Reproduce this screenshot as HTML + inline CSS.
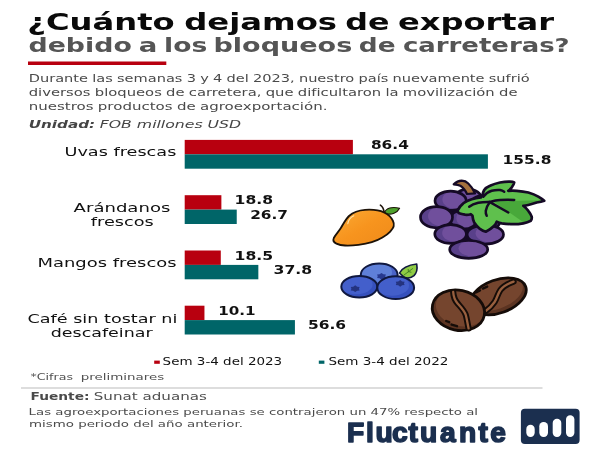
<!DOCTYPE html>
<html lang="es"><head><meta charset="utf-8"><title>¿Cuánto dejamos de exportar?</title>
<style>html,body{margin:0;padding:0;background:#fff}svg{display:block;will-change:transform}</style></head>
<body><svg width="600" height="450" viewBox="0 0 600 450">
<rect width="600" height="450" fill="#ffffff"/>
<text y="30.3" font-size="22.2" font-weight="bold" fill="#0a0a0a" font-family='"DejaVu Sans", "Liberation Sans", sans-serif'><tspan x="27.29" textLength="147.38" lengthAdjust="spacingAndGlyphs">¿Cuánto</tspan> <tspan x="184.16" textLength="152.86" lengthAdjust="spacingAndGlyphs">dejamos</tspan> <tspan x="345.29" textLength="44.24" lengthAdjust="spacingAndGlyphs">de</tspan> <tspan x="397.94" textLength="156.15" lengthAdjust="spacingAndGlyphs">exportar</tspan></text>
<text y="51.8" font-size="18.6" font-weight="bold" fill="#555" font-family='"DejaVu Sans", "Liberation Sans", sans-serif'><tspan x="28.51" textLength="103.33" lengthAdjust="spacingAndGlyphs">debido</tspan> <tspan x="138.83" textLength="18.64" lengthAdjust="spacingAndGlyphs">a</tspan> <tspan x="164.08" textLength="43.17" lengthAdjust="spacingAndGlyphs">los</tspan> <tspan x="213.44" textLength="138.84" lengthAdjust="spacingAndGlyphs">bloqueos</tspan> <tspan x="358.83" textLength="36.74" lengthAdjust="spacingAndGlyphs">de</tspan> <tspan x="402.9" textLength="166.78" lengthAdjust="spacingAndGlyphs">carreteras?</tspan></text>
<rect x="28" y="61.5" width="138.3" height="3.5" fill="#b8000f" />
<text x="28.7" y="81.8" font-size="10.8" font-weight="normal" font-style="normal" fill="#4a4a4a" text-anchor="start" font-family='"DejaVu Sans", "Liberation Sans", sans-serif' textLength="501" lengthAdjust="spacingAndGlyphs" word-spacing="-0.3">Durante las semanas 3 y 4 del 2023, nuestro país nuevamente sufrió</text>
<text x="28.7" y="95.8" font-size="10.8" font-weight="normal" font-style="normal" fill="#4a4a4a" text-anchor="start" font-family='"DejaVu Sans", "Liberation Sans", sans-serif' textLength="488.8" lengthAdjust="spacingAndGlyphs" word-spacing="-0.3">diversos bloqueos de carretera, que dificultaron la movilización de</text>
<text x="28.7" y="109.8" font-size="10.8" font-weight="normal" font-style="normal" fill="#4a4a4a" text-anchor="start" font-family='"DejaVu Sans", "Liberation Sans", sans-serif' textLength="298.8" lengthAdjust="spacingAndGlyphs" word-spacing="-0.3">nuestros productos de agroexportación.</text>
<text y="127.8" font-size="10.5" font-style="italic" fill="#444" font-family='"DejaVu Sans", "Liberation Sans", sans-serif'><tspan x="28.7" font-weight="bold" textLength="66.5" lengthAdjust="spacingAndGlyphs">Unidad:</tspan> <tspan x="99.7" textLength="141.5" lengthAdjust="spacingAndGlyphs">FOB millones USD</tspan></text>
<rect x="184.7" y="139.9" width="168.19" height="14.4" fill="#b8000f" />
<rect x="184.7" y="154.3" width="303.21" height="14.4" fill="#006568" />
<rect x="184.7" y="195.2" width="36.68" height="14.4" fill="#b8000f" />
<rect x="184.7" y="209.6" width="52.04" height="14.4" fill="#006568" />
<rect x="184.7" y="250.5" width="36.09" height="14.4" fill="#b8000f" />
<rect x="184.7" y="264.9" width="73.64" height="14.4" fill="#006568" />
<rect x="184.7" y="305.7" width="19.75" height="14.4" fill="#b8000f" />
<rect x="184.7" y="320.1" width="110.22" height="14.4" fill="#006568" />
<text x="370.94" y="149.3" font-size="11.4" font-weight="bold" font-style="normal" fill="#111" text-anchor="start" font-family='"DejaVu Sans", "Liberation Sans", sans-serif' textLength="37.9" lengthAdjust="spacingAndGlyphs" >86.4</text>
<text x="502.63" y="163.7" font-size="11.4" font-weight="bold" font-style="normal" fill="#111" text-anchor="start" font-family='"DejaVu Sans", "Liberation Sans", sans-serif' textLength="48.75" lengthAdjust="spacingAndGlyphs" >155.8</text>
<text x="234.61" y="204.2" font-size="11.4" font-weight="bold" font-style="normal" fill="#111" text-anchor="start" font-family='"DejaVu Sans", "Liberation Sans", sans-serif' textLength="38.48" lengthAdjust="spacingAndGlyphs" >18.8</text>
<text x="250.18" y="218.5" font-size="11.4" font-weight="bold" font-style="normal" fill="#111" text-anchor="start" font-family='"DejaVu Sans", "Liberation Sans", sans-serif' textLength="37.83" lengthAdjust="spacingAndGlyphs" >26.7</text>
<text x="234.6" y="259.7" font-size="11.4" font-weight="bold" font-style="normal" fill="#111" text-anchor="start" font-family='"DejaVu Sans", "Liberation Sans", sans-serif' textLength="38.62" lengthAdjust="spacingAndGlyphs" >18.5</text>
<text x="273.54" y="273.7" font-size="11.4" font-weight="bold" font-style="normal" fill="#111" text-anchor="start" font-family='"DejaVu Sans", "Liberation Sans", sans-serif' textLength="38.66" lengthAdjust="spacingAndGlyphs" >37.8</text>
<text x="218.2" y="314.7" font-size="11.4" font-weight="bold" font-style="normal" fill="#111" text-anchor="start" font-family='"DejaVu Sans", "Liberation Sans", sans-serif' textLength="37.44" lengthAdjust="spacingAndGlyphs" >10.1</text>
<text x="307.98" y="329" font-size="11.4" font-weight="bold" font-style="normal" fill="#111" text-anchor="start" font-family='"DejaVu Sans", "Liberation Sans", sans-serif' textLength="38.18" lengthAdjust="spacingAndGlyphs" >56.6</text>
<text x="64.47" y="156" font-size="11.6" font-weight="normal" font-style="normal" fill="#111" text-anchor="start" font-family='"DejaVu Sans", "Liberation Sans", sans-serif' textLength="111.88" lengthAdjust="spacingAndGlyphs" >Uvas frescas</text>
<text x="73.61" y="212.4" font-size="11.6" font-weight="normal" font-style="normal" fill="#111" text-anchor="start" font-family='"DejaVu Sans", "Liberation Sans", sans-serif' textLength="96.76" lengthAdjust="spacingAndGlyphs" >Arándanos</text>
<text x="90.85" y="226.1" font-size="11.6" font-weight="normal" font-style="normal" fill="#111" text-anchor="start" font-family='"DejaVu Sans", "Liberation Sans", sans-serif' textLength="63.01" lengthAdjust="spacingAndGlyphs" >frescos</text>
<text x="37.54" y="267.2" font-size="11.6" font-weight="normal" font-style="normal" fill="#111" text-anchor="start" font-family='"DejaVu Sans", "Liberation Sans", sans-serif' textLength="139.13" lengthAdjust="spacingAndGlyphs" >Mangos frescos</text>
<text x="27.51" y="323.4" font-size="11.6" font-weight="normal" font-style="normal" fill="#111" text-anchor="start" font-family='"DejaVu Sans", "Liberation Sans", sans-serif' textLength="149.93" lengthAdjust="spacingAndGlyphs" >Café sin tostar ni</text>
<text x="50.74" y="336.7" font-size="11.6" font-weight="normal" font-style="normal" fill="#111" text-anchor="start" font-family='"DejaVu Sans", "Liberation Sans", sans-serif' textLength="101.85" lengthAdjust="spacingAndGlyphs" >descafeinar</text>
<rect x="154.2" y="360.6" width="5.6" height="3.2" fill="#b8000f" />
<text x="162.6" y="364.5" font-size="9.7" font-weight="normal" font-style="normal" fill="#111" text-anchor="start" font-family='"DejaVu Sans", "Liberation Sans", sans-serif' textLength="119.6" lengthAdjust="spacingAndGlyphs" >Sem 3-4 del 2023</text>
<rect x="318.8" y="360.6" width="5.6" height="3.2" fill="#006568" />
<text x="328.4" y="364.5" font-size="9.7" font-weight="normal" font-style="normal" fill="#111" text-anchor="start" font-family='"DejaVu Sans", "Liberation Sans", sans-serif' textLength="120" lengthAdjust="spacingAndGlyphs" >Sem 3-4 del 2022</text>
<text y="380.2" font-size="9.2" font-weight="normal" fill="#505050" font-family='"DejaVu Sans", "Liberation Sans", sans-serif'><tspan x="30.5" textLength="42.5" lengthAdjust="spacingAndGlyphs">*Cifras</tspan> <tspan x="80.7" textLength="83.5" lengthAdjust="spacingAndGlyphs">preliminares</tspan></text>
<rect x="21" y="387.3" width="521.5" height="1.4" fill="#cfcfcf" />
<text y="400.1" font-size="10.3" fill="#505050" font-family='"DejaVu Sans", "Liberation Sans", sans-serif'><tspan x="30.5" font-weight="bold" fill="#4a4a4a" textLength="59" lengthAdjust="spacingAndGlyphs">Fuente:</tspan> <tspan x="93.7" textLength="113.3" lengthAdjust="spacingAndGlyphs">Sunat aduanas</tspan></text>
<text x="28.6" y="415" font-size="9.5" font-weight="normal" font-style="normal" fill="#4a4a4a" text-anchor="start" font-family='"DejaVu Sans", "Liberation Sans", sans-serif' textLength="449.4" lengthAdjust="spacingAndGlyphs" >Las agroexportaciones peruanas se contrajeron un 47% respecto al</text>
<text x="29" y="427.2" font-size="9.5" font-weight="normal" font-style="normal" fill="#4a4a4a" text-anchor="start" font-family='"DejaVu Sans", "Liberation Sans", sans-serif' textLength="214" lengthAdjust="spacingAndGlyphs" >mismo periodo del año anterior.</text>
<text x="347.0 366.1 375.4 392.0 408.6 420.1 440.0 459.0 478.6 490.3" y="441.6" font-size="28.2" font-weight="bold" fill="#1b2f4f" stroke="#1b2f4f" stroke-width="1.6" stroke-linejoin="round" font-family='"Liberation Sans", "DejaVu Sans", sans-serif'>Fluctuante</text>
<rect x="520.9" y="408.7" width="58.7" height="35.3" rx="4" fill="#1b2f4f"/>
<rect x="526.3" y="424.7" width="8.4" height="12.300000000000011" rx="4.2" fill="#fff"/>
<rect x="539.3" y="422" width="8.7" height="15" rx="4.2" fill="#fff"/>
<rect x="552.7" y="418.7" width="8.6" height="18.30000000000001" rx="4.2" fill="#fff"/>
<rect x="566" y="415.3" width="8.4" height="21.69999999999999" rx="4.2" fill="#fff"/>
<!-- MANGO -->
<g stroke-linejoin="round" stroke-linecap="round">
<defs>
<linearGradient id="mg" x1="0" y1="0" x2="1" y2="1"><stop offset="0" stop-color="#fbab35"/><stop offset="0.5" stop-color="#f7941e"/><stop offset="1" stop-color="#ee8a1a"/></linearGradient>
</defs>
<path d="M384.2 212 C383.6 209 382.6 206.6 380.4 205.2" fill="none" stroke="#1c1208" stroke-width="1.6"/>
<path d="M384.6 212.6 C386 208 392 206.4 399.6 208.2 C397.4 212.6 391.4 215.4 385.6 213.6 Z" fill="#4ea22d" stroke="#1c1208" stroke-width="1.1"/>
<path d="M384 212.4 C380 210.4 372 209.4 365 209.8 C359 210.2 353 212.4 349 216 C345.6 219.2 343.6 223.6 341 227.8 C338.8 231.4 335.2 235 333.8 238 C332.8 240.4 333.6 242.4 336.4 243.6 C339 244.8 342 245.4 345 245.5 C350 245.7 354 245.4 358.4 244.9 C363 244.4 367.6 243.6 371.8 242.2 C375.6 241 379.2 239.6 382.4 237.6 C385.4 235.8 388.2 233.8 390.2 231.6 C392 229.6 393.4 228 393.7 226.2 C394 224.4 393.8 222.6 393 221 C392.2 219.4 391 217.6 389.6 216.2 C388 214.6 386 213.2 384 212.4 Z" fill="url(#mg)" stroke="#1c1208" stroke-width="1.8"/>
<path d="M347.8 223.6 C348.4 220.4 350.4 217.4 353.8 215.8" fill="none" stroke="#fde3ad" stroke-width="1.1"/>
</g>
<!-- GRAPES -->
<g stroke-linejoin="round" stroke-linecap="round">
<defs>
<clipPath id="lf"><path id="leafp" d="M457.5 210.8 C459 207.5 461 205 463.3 203.3 C466 201.2 469 200 471.7 199.2 C474.8 198.3 478 197.8 480.8 197.5 L482.5 195 C482.8 193.2 483.4 191.5 484.2 190 C485.6 188 487.6 186.8 490 185.8 C493 184.4 496.6 183.2 500 182.5 C503.4 181.9 507 181.6 510 181.7 C511.6 181.8 513.2 182 514.2 182.5 C513.8 184.4 512.8 186 511.7 187.5 C510.8 188.8 509.6 189.9 508.3 190.8 C511 190.6 514 190.6 516.7 190.8 C520.8 191.1 524.6 191.6 528.3 192.5 C532 193.6 535.4 195 538.3 196.7 C540.6 198 542.6 199.4 544.2 200.8 C542 201.7 539.4 202.2 536.7 202.5 C534 203.4 531 204.4 528.3 205 C526.6 205.4 525 205.7 523.3 205.8 C525.2 207.3 527 209 528.3 210.8 C529.8 212.7 531 214.6 531.7 216.7 C532 218.2 531.6 219.6 530.8 220.8 C528.6 222 526 222.8 523.3 223.3 C520 223.9 516.6 224.2 513.3 224.2 C509.4 224.1 505.4 223.8 501.7 223.3 C500 223 498.2 222.4 496.7 221.7 C496.2 223.2 495.4 224.6 494.2 225.8 C491.8 228.2 489 230.2 485.8 231.7 C483.4 231 481.2 229.8 479.2 228.3 C477.2 226.6 475.6 224.6 474.2 222.5 C473.2 220.4 472.7 218 472.5 215.8 L470.8 214.2 C469 214.7 467 214.9 465 214.7 C463 214.4 461 214 459.2 213.3 C458.4 212.6 457.8 211.8 457.5 210.8 Z"/></clipPath>
</defs>
<path d="M445 205 L480 200 L490 225 L475 245 L460 245 L448 228 Z" fill="#150a25"/>
<g><clipPath id="gc0"><ellipse cx="468" cy="199" rx="13.5" ry="10"/></clipPath><ellipse cx="468" cy="199" rx="13.5" ry="10" fill="#59408a"/><ellipse cx="473.7" cy="197.8" rx="12.8" ry="10.0" fill="#704f9c" clip-path="url(#gc0)"/><ellipse cx="468" cy="199" rx="13.5" ry="10" fill="none" stroke="#150a25" stroke-width="2.7"/></g>
<g><clipPath id="gc1"><ellipse cx="483" cy="205" rx="13" ry="9.5"/></clipPath><ellipse cx="483" cy="205" rx="13" ry="9.5" fill="#59408a"/><ellipse cx="488.5" cy="203.9" rx="12.3" ry="9.5" fill="#704f9c" clip-path="url(#gc1)"/><ellipse cx="483" cy="205" rx="13" ry="9.5" fill="none" stroke="#150a25" stroke-width="2.7"/></g>
<g><clipPath id="gc2"><ellipse cx="450.6" cy="200.8" rx="15.6" ry="9.6"/></clipPath><ellipse cx="450.6" cy="200.8" rx="15.6" ry="9.6" fill="#59408a"/><ellipse cx="457.2" cy="199.6" rx="14.8" ry="9.6" fill="#704f9c" clip-path="url(#gc2)"/><ellipse cx="450.6" cy="200.8" rx="15.6" ry="9.6" fill="none" stroke="#150a25" stroke-width="2.7"/></g>
<g><clipPath id="gc3"><ellipse cx="486" cy="221" rx="14" ry="9.5"/></clipPath><ellipse cx="486" cy="221" rx="14" ry="9.5" fill="#59408a"/><ellipse cx="491.9" cy="219.9" rx="13.3" ry="9.5" fill="#704f9c" clip-path="url(#gc3)"/><ellipse cx="486" cy="221" rx="14" ry="9.5" fill="none" stroke="#150a25" stroke-width="2.7"/></g>
<g><clipPath id="gc4"><ellipse cx="463.5" cy="219.5" rx="13.5" ry="9.6"/></clipPath><ellipse cx="463.5" cy="219.5" rx="13.5" ry="9.6" fill="#59408a"/><ellipse cx="469.2" cy="218.3" rx="12.8" ry="9.6" fill="#704f9c" clip-path="url(#gc4)"/><ellipse cx="463.5" cy="219.5" rx="13.5" ry="9.6" fill="none" stroke="#150a25" stroke-width="2.7"/></g>
<g><clipPath id="gc5"><ellipse cx="436.5" cy="217.2" rx="16" ry="10.6"/></clipPath><ellipse cx="436.5" cy="217.2" rx="16" ry="10.6" fill="#59408a"/><ellipse cx="443.2" cy="215.9" rx="15.2" ry="10.6" fill="#704f9c" clip-path="url(#gc5)"/><ellipse cx="436.5" cy="217.2" rx="16" ry="10.6" fill="none" stroke="#150a25" stroke-width="2.7"/></g>
<g><clipPath id="gc6"><ellipse cx="485.3" cy="234.5" rx="18.2" ry="9.6"/></clipPath><ellipse cx="485.3" cy="234.5" rx="18.2" ry="9.6" fill="#59408a"/><ellipse cx="492.9" cy="233.3" rx="17.3" ry="9.6" fill="#704f9c" clip-path="url(#gc6)"/><ellipse cx="485.3" cy="234.5" rx="18.2" ry="9.6" fill="none" stroke="#150a25" stroke-width="2.7"/></g>
<g><clipPath id="gc7"><ellipse cx="450.6" cy="234" rx="15.8" ry="9.4"/></clipPath><ellipse cx="450.6" cy="234" rx="15.8" ry="9.4" fill="#59408a"/><ellipse cx="457.2" cy="232.9" rx="15.0" ry="9.4" fill="#704f9c" clip-path="url(#gc7)"/><ellipse cx="450.6" cy="234" rx="15.8" ry="9.4" fill="none" stroke="#150a25" stroke-width="2.7"/></g>
<g><clipPath id="gc8"><ellipse cx="468.7" cy="249.4" rx="19" ry="8.9"/></clipPath><ellipse cx="468.7" cy="249.4" rx="19" ry="8.9" fill="#59408a"/><ellipse cx="476.7" cy="248.3" rx="18.1" ry="8.9" fill="#704f9c" clip-path="url(#gc8)"/><ellipse cx="468.7" cy="249.4" rx="19" ry="8.9" fill="none" stroke="#150a25" stroke-width="2.7"/></g>
<!-- stem -->
<path d="M453.7 184.4 C456 182.2 459 180.8 461.7 180.7 C464.4 180.8 466.6 181.8 468.3 183.5 C471 186 473.4 189.6 475 193.4 L467 194 C465.4 190.6 463 187.4 460.3 185.8 C458.2 184.8 456 184.6 453.7 184.4 Z" fill="#a5713d" stroke="#150a25" stroke-width="2.2"/>
<!-- leaf -->
<use href="#leafp" fill="#5fc04d"/>
<path d="M493 201.2 L528 225.4 L552 216 L547 200.2 Z" fill="#48a83a" clip-path="url(#lf)"/>
<use href="#leafp" fill="none" stroke="#150a25" stroke-width="2.7"/>
<g fill="none" stroke="#150a25" stroke-width="2.5">
<path d="M489.2 201.9 C485 201.8 481 202.2 478.3 202.7 C474.6 203.6 471.4 205 469.2 206.7"/>
<path d="M483.3 196.7 C485.4 193.8 488.2 191.8 491.7 190.8 C494.6 190 497.4 189.8 500 190 C501.6 190.3 503 190.9 504.2 191.7"/>
<path d="M490.8 201.7 C493.8 200.8 497 200.2 500 200 C505 199.7 510 199.7 514.2 200"/>
<path d="M489.5 201.8 L508.3 212.5"/>
<path d="M489.2 203 C487.4 205.4 486.2 208 485.8 210.8 C485.6 212.6 486 214.4 486.7 215.8"/>
</g>
</g>
<!-- BLUEBERRIES -->
<g stroke-linejoin="round" stroke-linecap="round">
<defs>
<path id="star" d="M0 -2.6 L1.5 -1.5 L3.4 -1.3 L2.9 0 L3.4 1.3 L1.5 1.5 L0 2.6 L-1.5 1.5 L-3.4 1.3 L-2.9 0 L-3.4 -1.3 L-1.5 -1.5 Z"/>
<clipPath id="bb1"><ellipse cx="379.2" cy="274.8" rx="18.4" ry="11.4"/></clipPath>
<clipPath id="bb2"><ellipse cx="359.3" cy="286.8" rx="18" ry="10.7"/></clipPath>
<clipPath id="bb3"><ellipse cx="395.7" cy="287.7" rx="18.4" ry="11.4"/></clipPath>
</defs>
<!-- leaf -->
<path d="M399.5 273 C402 268 408 265 416.7 264 C417.6 269 416.6 273 414 275.6 C411 278 407 278.4 404.6 277.6 Z" fill="#8fcb45" stroke="#10183f" stroke-width="1.6"/>
<path d="M404 275 L412.6 268.6 M408.4 271.8 L408.2 269.4 M408.6 271.6 L411 272.2" fill="none" stroke="#3d7a22" stroke-width="0.9"/>
<!-- back berry -->
<ellipse cx="379.2" cy="274.8" rx="18.4" ry="11.4" fill="#4a63c8"/>
<ellipse cx="375" cy="272.4" rx="17" ry="10.4" fill="#5f80d8" clip-path="url(#bb1)"/>
<use href="#star" transform="translate(381.5 276.3) scale(1.3)" fill="#27398f"/>
<ellipse cx="379.2" cy="274.8" rx="18.4" ry="11.4" fill="none" stroke="#10183f" stroke-width="2"/>
<!-- left berry -->
<ellipse cx="359.3" cy="286.8" rx="18" ry="10.7" fill="#3550bd"/>
<ellipse cx="356" cy="284.6" rx="16.6" ry="9.6" fill="#435fcb" clip-path="url(#bb2)"/>
<use href="#star" transform="translate(355.2 288.7) scale(1.3)" fill="#24337f"/>
<ellipse cx="359.3" cy="286.8" rx="18" ry="10.7" fill="none" stroke="#10183f" stroke-width="2"/>
<!-- right berry -->
<ellipse cx="395.7" cy="287.7" rx="18.4" ry="11.4" fill="#3550bd"/>
<ellipse cx="392" cy="285.4" rx="17" ry="10.4" fill="#435fcb" clip-path="url(#bb3)"/>
<use href="#star" transform="translate(400.2 283.4) scale(1.3)" fill="#24337f"/>
<ellipse cx="395.7" cy="287.7" rx="18.4" ry="11.4" fill="none" stroke="#10183f" stroke-width="2"/>
</g>
<!-- COFFEE -->
<g stroke-linejoin="round" stroke-linecap="round">
<defs>
<clipPath id="cb1"><ellipse cx="0" cy="0" rx="29.2" ry="16.6"/></clipPath>
<clipPath id="cb2"><ellipse cx="0" cy="0" rx="26.4" ry="20"/></clipPath>
</defs>
<!-- back bean -->
<g transform="translate(498.2 296.4) rotate(-20)">
<ellipse cx="0" cy="0" rx="29.2" ry="16.6" fill="#5c3422"/>
<ellipse cx="-1.5" cy="-3.2" rx="28.4" ry="15.2" fill="#75452e" clip-path="url(#cb1)"/>
<ellipse cx="0" cy="0" rx="29.2" ry="16.6" fill="none" stroke="#150c08" stroke-width="2.8"/>
</g>
<path d="M513.6 281.6 C508 283.6 503 286.4 500.4 290 C497.6 294 497 298.4 494.6 302 C492.4 305.2 489.6 308.2 486 310.8" fill="none" stroke="#150c08" stroke-width="6.2"/>
<path d="M513.6 281.6 C508 283.6 503 286.4 500.4 290 C497.6 294 497 298.4 494.6 302 C492.4 305.2 489.6 308.2 486 310.8" fill="none" stroke="#99603f" stroke-width="2.3"/>
<path d="M476.4 292.2 L480 290.4 M482.8 288.6 L487.2 286.6" fill="none" stroke="#150c08" stroke-width="2.4"/>
<!-- front bean -->
<g transform="translate(458.4 310.2) rotate(12)">
<ellipse cx="0" cy="0" rx="26.4" ry="20" fill="#5c3422"/>
<ellipse cx="2" cy="-3" rx="25.4" ry="18.4" fill="#75452e" clip-path="url(#cb2)"/>
<ellipse cx="0" cy="0" rx="26.4" ry="20" fill="none" stroke="#150c08" stroke-width="2.8"/>
</g>
<path d="M453.2 292 C453.4 296 454.6 300 457.6 303.4 C460.8 307 464.4 310.6 465.8 315 C467 319.4 467.6 324 468.6 328.4" fill="none" stroke="#150c08" stroke-width="6.2"/>
<path d="M453.2 292 C453.4 296 454.6 300 457.6 303.4 C460.8 307 464.4 310.6 465.8 315 C467 319.4 467.6 324 468.6 328.4" fill="none" stroke="#99603f" stroke-width="2.3"/>
<path d="M446.2 321 L449.2 322.2 M451.6 324.6 L457 326.2" fill="none" stroke="#150c08" stroke-width="2.4"/>
</g>

</svg></body></html>
